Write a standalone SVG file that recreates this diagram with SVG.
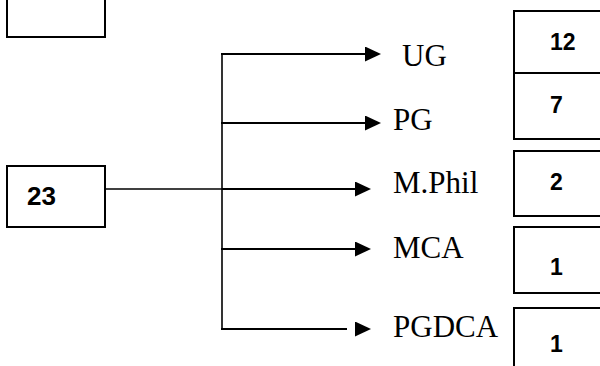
<svg xmlns="http://www.w3.org/2000/svg" width="600" height="366" viewBox="0 0 600 366">
<style>
.box{fill:#fff;stroke:#000;stroke-width:2}
.num{font-family:"Liberation Sans",Arial,sans-serif;font-weight:bold;font-size:23px;fill:#000}
.lbl{font-family:"Liberation Serif","Times New Roman",serif;font-size:31px;fill:#000}
.arr{fill:none;stroke:#000;stroke-width:2}
</style>
<defs>
<marker id="ah" markerUnits="userSpaceOnUse" markerWidth="16" markerHeight="16" refX="0" refY="7.5" orient="auto">
<path d="M0,0 L16,7.5 L0,15 Z" fill="#000"/>
</marker>
</defs>
<rect width="600" height="366" fill="#fff"/>
<g id="blank-box"><rect class="box" x="7" y="-5" width="98" height="42"/></g>
<g id="node-23"><rect class="box" x="7" y="166" width="98" height="61"/><text class="num" x="27" y="205" style="font-size:26px">23</text></g>
<g id="connectors">
<line x1="105" y1="189" x2="222" y2="189" stroke="#000" stroke-width="1.3"/>
<line x1="222" y1="54" x2="222" y2="329" stroke="#000" stroke-width="1.6"/>
<path class="arr" d="M221,54 L365,54" marker-end="url(#ah)"/>
<path class="arr" d="M221,123 L365,123" marker-end="url(#ah)"/>
<path class="arr" d="M222,189 L355,189" marker-end="url(#ah)"/>
<path class="arr" d="M221,249 L355,249" marker-end="url(#ah)"/>
<path class="arr" d="M221,329 L347,329"/>
<path d="M354,329 L355,329" fill="none" stroke="none" marker-end="url(#ah)"/>
</g>
<g id="label-UG"><text class="lbl" x="402" y="66">UG</text></g>
<g id="label-PG"><text class="lbl" x="393" y="130">PG</text></g>
<g id="label-MPhil"><text class="lbl" x="393" y="193">M.Phil</text></g>
<g id="label-MCA"><text class="lbl" x="393" y="258">MCA</text></g>
<g id="label-PGDCA"><text class="lbl" x="393" y="337">PGDCA</text></g>
<g id="box-UG"><rect class="box" x="514" y="11" width="100" height="62"/><text class="num" x="550" y="50">12</text></g>
<g id="box-PG"><rect class="box" x="514" y="73" width="100" height="66"/><text class="num" x="550" y="113">7</text></g>
<g id="box-MPhil"><rect class="box" x="514" y="151" width="100" height="65"/><text class="num" x="550" y="190">2</text></g>
<g id="box-MCA"><rect class="box" x="514" y="227" width="100" height="66"/><text class="num" x="550" y="275">1</text></g>
<g id="box-PGDCA"><rect class="box" x="514" y="308" width="100" height="70"/><text class="num" x="550" y="352">1</text></g>
</svg>
